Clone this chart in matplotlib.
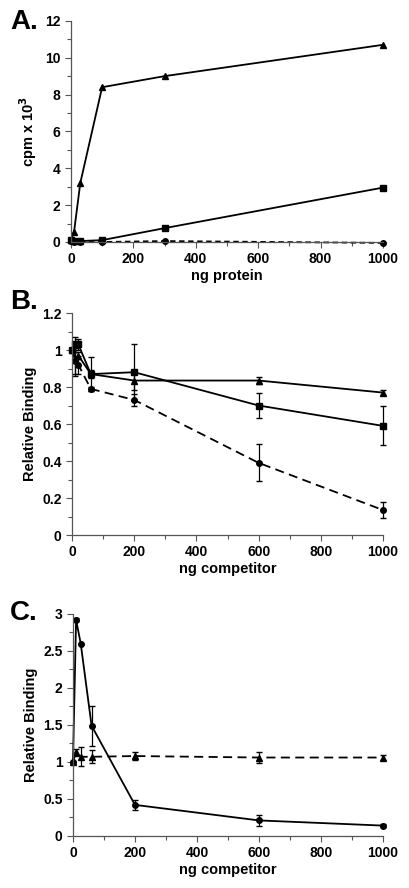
import matplotlib
matplotlib.use("Agg")
import matplotlib.pyplot as plt
from matplotlib.ticker import MultipleLocator

plt.rcParams["font.family"] = ["Liberation Sans", "DejaVu Sans"]
plt.rcParams["font.weight"] = "bold"

# Panel A: cpm x 10^3 vs ng protein
a_x = [0, 10, 30, 100, 300, 1000]
a_tri = [0.1, 0.55, 3.2, 8.4, 9.0, 10.7]
a_sq = [0.1, 0.05, 0.05, 0.1, 0.75, 2.95]
a_circ = [0.05, 0.0, 0.0, 0.0, 0.05, -0.05]

# Panel B: relative binding vs ng competitor
b_x = [0, 10, 20, 60, 200, 600, 1000]
b_sq = [1.0, 1.03, 1.03, 0.87, 0.88, 0.70, 0.59]
b_sq_err = [0.0, 0.04, 0.03, 0.09, 0.15, 0.065, 0.105]
b_tri = [1.0, 0.95, 0.97, 0.87, 0.835, 0.835, 0.77]
b_tri_err = [0.0, 0.09, 0.02, 0.02, 0.05, 0.02, 0.015]
b_circ = [1.0, 0.94, 0.92, 0.79, 0.73, 0.39, 0.135]
b_circ_err = [0.0, 0.07, 0.05, 0.01, 0.03, 0.10, 0.045]

# Panel C
c_x = [0, 10, 25, 60, 200, 600, 1000]
c_circ = [1.0, 2.92, 2.6, 1.49, 0.42, 0.21, 0.14]
c_circ_err = [0.0, 0.02, 0.0, 0.27, 0.07, 0.07, 0.02]
c_tri = [1.0, 1.13, 1.07, 1.07, 1.08, 1.06, 1.06]
c_tri_err = [0.0, 0.05, 0.13, 0.09, 0.06, 0.07, 0.03]

FS = 10
LW = 1.3
MS = 4.5


def style(ax, ymax, ymajor, yminor, ylabel, xlabel):
    ax.set_xlim(0, 1000)
    ax.set_ylim(0, ymax)
    for side in ("top", "right"):
        ax.spines[side].set_visible(False)
    for side in ("left", "bottom"):
        ax.spines[side].set_linewidth(0.9)
        ax.spines[side].set_color("#555555")
    ax.xaxis.set_major_locator(MultipleLocator(200))
    ax.xaxis.set_minor_locator(MultipleLocator(100))
    ax.yaxis.set_major_locator(MultipleLocator(ymajor))
    ax.yaxis.set_minor_locator(MultipleLocator(yminor))
    ax.tick_params(which="both", direction="out", color="#555555", width=0.8, labelsize=FS)
    ax.tick_params(which="major", length=4)
    ax.tick_params(which="minor", length=3)
    ax.set_ylabel(ylabel, fontsize=FS + 0.5, fontweight="bold", labelpad=4)
    ax.set_xlabel(xlabel, fontsize=FS + 0.5, fontweight="bold", labelpad=2)
    ax.yaxis.set_major_formatter(plt.FuncFormatter(lambda v, p: f"{v:g}"))
    for lab in ax.get_xticklabels() + ax.get_yticklabels():
        lab.set_fontweight("bold")


fig = plt.figure(figsize=(4.1, 8.88), dpi=100)

# --- A ---
axA = fig.add_axes([0.173, 0.7275, 0.761, 0.249])
axA.plot(a_x, a_tri, "k-^", lw=LW, ms=MS, clip_on=False)
axA.plot(a_x, a_sq, "k-s", lw=LW, ms=MS - 0.5, clip_on=False)
axA.plot(a_x, a_circ, "k--o", lw=LW, ms=MS - 0.5, dashes=(3, 2), clip_on=False)
style(axA, 12, 2, 1, "cpm x 10$^\\mathbf{3}$", "ng protein")
fig.text(0.025, 0.975, "A.", fontsize=20, fontweight="bold", va="center")

# --- B ---
axB = fig.add_axes([0.176, 0.3975, 0.758, 0.25])
axB.errorbar(b_x, b_sq, yerr=b_sq_err, fmt="k-s", lw=LW, ms=MS - 0.5, capsize=2.5, elinewidth=0.9, clip_on=False)
axB.errorbar(b_x, b_tri, yerr=b_tri_err, fmt="k-^", lw=LW, ms=MS, capsize=2.5, elinewidth=0.9, clip_on=False)
lines = axB.errorbar(b_x, b_circ, yerr=b_circ_err, fmt="k--o", lw=LW, ms=MS - 0.5, capsize=2.5, elinewidth=0.9, clip_on=False)
lines[0].set_dashes((5, 3))
style(axB, 1.2, 0.2, 0.1, "Relative Binding", "ng competitor")
fig.text(0.025, 0.66, "B.", fontsize=20, fontweight="bold", va="center")

# --- C ---
axC = fig.add_axes([0.178, 0.0586, 0.756, 0.25])
axC.errorbar(c_x, c_circ, yerr=c_circ_err, fmt="k-o", lw=LW, ms=MS - 0.5, capsize=2.5, elinewidth=0.9, clip_on=False)
lines = axC.errorbar(c_x, c_tri, yerr=c_tri_err, fmt="k--^", lw=LW, ms=MS, capsize=2.5, elinewidth=0.9, clip_on=False)
lines[0].set_dashes((5, 3))
style(axC, 3, 0.5, 0.25, "Relative Binding", "ng competitor")
fig.text(0.025, 0.31, "C.", fontsize=20, fontweight="bold", va="center")

fig.savefig("out.png", dpi=100)
